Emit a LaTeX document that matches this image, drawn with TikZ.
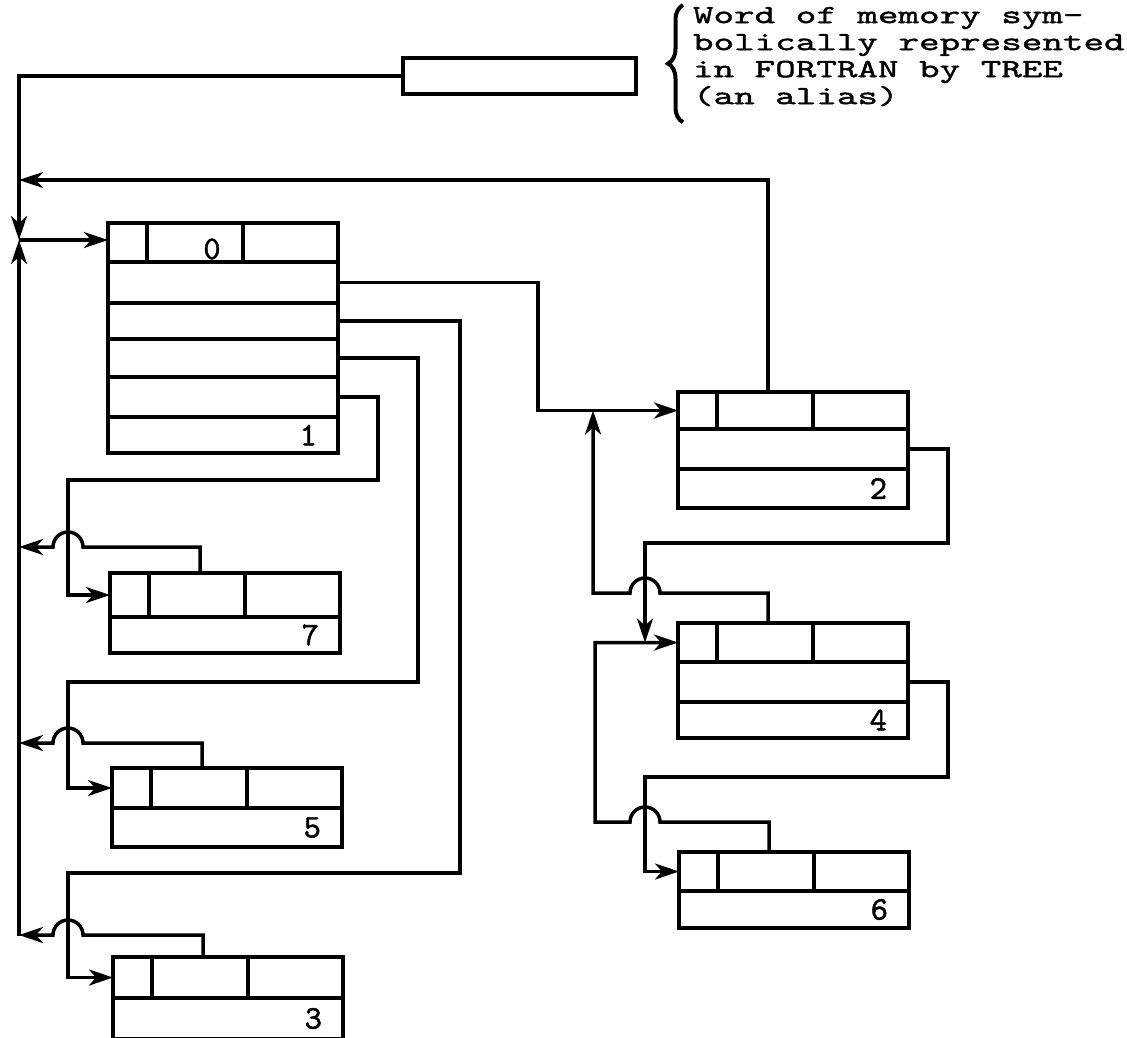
\documentclass[tikz,border=0pt]{standalone}
\usepackage{fontspec}
\newfontfamily\typewr{lmmono10-regular.otf}[FakeStretch=1.5, FakeBold=1.4]
\newfontfamily\numwr{lmmono10-regular.otf}[FakeBold=1.4]
\usepackage{tikz}
\usetikzlibrary{positioning,arrows.meta,decorations.pathreplacing}

\begin{document}
\begin{tikzpicture}[
  x=1pt, y=-1pt,
  every node/.style={inner sep=0pt, outer sep=0pt},
  wire/.style={line width=3.5pt},
  cell/.style={draw, line width=3.5pt, minimum width=230pt, anchor=north west},
  arr/.style={wire, -{Stealth[length=24pt,width=16pt,inset=7pt]}},
  digit/.style={font=\numwr\fontsize{33pt}{33pt}\selectfont},
  memo/.style={font=\typewr\fontsize{26.1pt}{27pt}\selectfont, align=left, anchor=north west}
]
  \useasboundingbox (0,0) rectangle (1127,1037);

  % the word TREE and its note
  \node[memo] (memo) at (693,7) {Word of memory sym-\\bolically represented\\in FORTRAN by TREE\\(an alias)};
  \draw[line width=4pt, decorate, decoration={brace, amplitude=15pt}]
    ([xshift=-10pt, yshift=-16pt]memo.south west) -- ([xshift=-10pt, yshift=2pt]memo.north west);
  \node[cell, minimum width=233pt, minimum height=36pt] (tb) at (403,58) {};

  % record 0
  \node[cell, minimum height=39pt] (n0) at (108,223) {};
  \node[cell, minimum height=41pt] (n0a) at (n0.south west) {};
  \node[cell, minimum height=36pt] (n0b) at (n0a.south west) {};
  \node[cell, minimum height=38pt] (n0c) at (n0b.south west) {};
  \node[cell, minimum height=40pt] (n0d) at (n0c.south west) {};
  \node[cell, minimum height=36pt] (n0e) at (n0d.south west) {};

  % records on the left
  \node[cell, minimum height=44pt] (n7) at (110,573) {};
  \node[cell, minimum height=36pt] (n7a) at (n7.south west) {};
  \node[cell, minimum height=40pt] (n5) at (112,768) {};
  \node[cell, minimum height=39pt] (n5a) at (n5.south west) {};
  \node[cell, minimum height=41pt] (n3) at (113,957) {};
  \node[cell, minimum height=41pt] (n3a) at (n3.south west) {};

  % records on the right
  \node[cell, minimum height=37pt] (n2) at (678,392) {};
  \node[cell, minimum height=40pt] (n2a) at (n2.south west) {};
  \node[cell, minimum height=39pt] (n2b) at (n2a.south west) {};
  \node[cell, minimum height=39pt] (n4) at (678,623) {};
  \node[cell, minimum height=40pt] (n4a) at (n4.south west) {};
  \node[cell, minimum height=36pt] (n4b) at (n4a.south west) {};
  \node[cell, minimum height=39pt] (n6) at (679,852) {};
  \node[cell, minimum height=37pt] (n6a) at (n6.south west) {};

  % fields of the first words
  \foreach \h in {n0,n7,n5,n3,n2,n4,n6}
    \draw[wire] ([xshift=39pt]\h.north west) -- ([xshift=39pt]\h.south west)
                ([xshift=135pt]\h.north west) -- ([xshift=135pt]\h.south west);

  % numbers
  \node[digit] (d0) at (212,249) {0};
  \node[digit, left=21pt of n0e.east] (d1) {1};
  \node[digit, left=21pt of n7a.east] (d7) {7};
  \node[digit, left=21pt of n5a.east] (d5) {5};
  \node[digit, left=21pt of n3a.east] (d3) {3};
  \node[digit, left=21pt of n2b.east] (d2) {2};
  \node[digit, left=21pt of n4b.east] (d4) {4};
  \node[digit, left=21pt of n6a.east] (d6) {6};

  % trunk
  \coordinate (hub) at (19,240);
  \coordinate (foot) at (19,936);
  \coordinate (ret) at (19,180);
  \draw[arr] (tb.west) -| (hub);
  \draw[arr] (foot) -- (hub);
  \draw[arr] (hub) -- (hub -| n0.west);
  \draw[arr] ([xshift=90pt]n2.north west) |- (ret);

  % links out of record 0
  \draw[arr] (n0a.east) -- ++(200,0) |- (n2.west);
  \draw[arr] (n0b.east) -- ++(122,0) -- ++(0,552) -| ([xshift=-45pt]n3.west) -- (n3.west);
  \draw[arr] (n0c.east) -- ++(80,0) -- ++(0,324) -| ([xshift=-44pt]n5.west) -- (n5.west);
  \draw[arr] (n0d.east) -- ++(40,0) -- ++(0,83) -| ([xshift=-42pt]n7.west) -- (n7.west);

  % back to the trunk, hopping the links
  \draw[arr] ([xshift=90pt]n7.north west) -- ++(0,-26) -- ++(-117,0)
    arc[start angle=0, end angle=-180, radius=15] -- ++(-34,0);
  \draw[arr] ([xshift=90pt]n5.north west) -- ++(0,-25) -- ++(-119,0)
    arc[start angle=0, end angle=-180, radius=15] -- ++(-34,0);
  \draw[arr] ([xshift=90pt]n3.north west) -- ++(0,-22) -- ++(-120,0)
    arc[start angle=0, end angle=-180, radius=15] -- ++(-34,0);

  % right hand side
  \draw[arr] (n2a.east) -- ++(40,0) -- ++(0,94) -| ([xshift=-33pt]n4.west);
  \draw[arr] ([xshift=90pt]n4.north west) -- ++(0,-30) -- ++(-108,0)
    arc[start angle=0, end angle=-180, radius=15] -- ++(-37,0) -- ([xshift=-85pt]n2.west);
  \draw[arr] (n4a.east) -- ++(40,0) -- ++(0,95) -| ([xshift=-34pt]n6.west) -- (n6.west);
  \draw[arr] ([xshift=90pt]n6.north west) -- ++(0,-30) -- ++(-109,0)
    arc[start angle=0, end angle=-180, radius=15] -- ++(-35,0) |- (n4.west);
\end{tikzpicture}
\end{document}
